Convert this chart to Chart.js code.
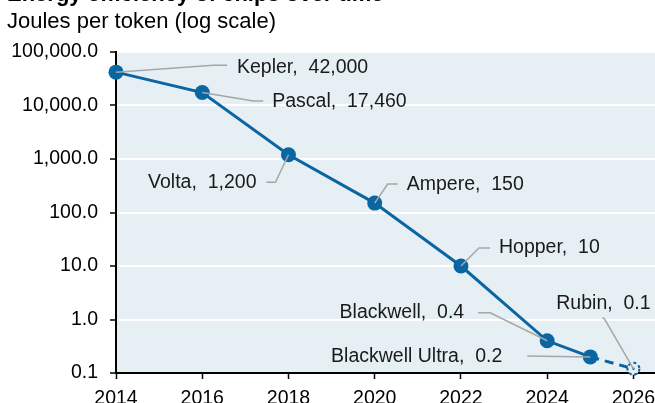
<!DOCTYPE html>
<html>
<head>
<meta charset="utf-8">
<script src="https://cdn.jsdelivr.net/npm/chart.js@4"></script>
<style>
  html, body { margin: 0; padding: 0; background: #fff; }
  #wrap { position: relative; width: 655px; height: 403px; overflow: hidden; }
  #title { position: absolute; left: 7px; top: -19px; font: bold 22px "Liberation Sans", Arial, sans-serif; color: #000; white-space: nowrap; }
  #subtitle { position: absolute; left: 7px; top: 8px; font: 22px "Liberation Sans", Arial, sans-serif; color: #000; white-space: nowrap; }
  canvas { position: absolute; left: 0; top: 0; }
</style>
</head>
<body>
<div id="wrap">
  <canvas id="chart" width="655" height="403"></canvas>
  <div id="title">Energy efficiency of chips over time</div>
  <div id="subtitle">Joules per token (log scale)</div>
</div>
<script>
// données
const chips = ["Kepler", "Pascal", "Volta", "Ampere", "Hopper", "Blackwell", "Blackwell Ultra", "Rubin"];
const years = [2014, 2016, 2018, 2020, 2022, 2024, 2025, 2026];
const joules = [42000, 17460, 1200, 150, 10, 0.4, 0.2, 0.12];
const valueLabels = ["42,000", "17,460", "1,200", "150", "10", "0.4", "0.2", "0.1"];
const xTicks = [2014, 2016, 2018, 2020, 2022, 2024, 2026];
const yTicks = [0.1, 1, 10, 100, 1000, 10000, 100000];
const yTickLabels = ["0.1", "1.0", "10.0", "100.0", "1,000.0", "10,000.0", "100,000.0"];

const blue = "#0a66a2";
const font = '"Liberation Sans", Arial, sans-serif';

// décalages des étiquettes (coude, fin du trait, texte) par rapport au point
const callouts = [
    { elbow: [97, -7], end: [111, -7], text: [121, -5], align: "left" },
    { elbow: [51, 8.5], end: [61, 8.5], text: [70, 9], align: "left" },
    { elbow: [-13, 27.5], end: [-22, 27.5], text: [-32, 27.5], align: "right" },
    { elbow: [13, -19], end: [23, -19], text: [32, -18.5], align: "left" },
    { elbow: [18, -18], end: [29, -18], text: [38, -18], align: "left" },
    { elbow: [-57, -28], end: [-69, -28], text: [-83, -28], align: "right" },
    { elbow: [-63, -1], end: [-63, -1], text: [-88, -0.5], align: "right" },
    { elbow: [-29, -50], end: [-31, -51], text: [-30, -65], align: "center" }
];

const plotBg = {
    id: "plotBg",
    beforeDraw(chart) {
        const { ctx, chartArea: a } = chart;
        ctx.save();
        ctx.fillStyle = "#e6eff3";
        ctx.fillRect(a.left, a.top, a.right - a.left, a.bottom - a.top);
        ctx.restore();
    }
};

const labelsPlugin = {
    id: "callouts",
    afterDatasetsDraw(chart) {
        const ctx = chart.ctx;
        const pts = chart.getDatasetMeta(0).data;
        ctx.save();
        // marqueur Rubin (cercle pointillé)
        const r = pts[pts.length - 1];
        ctx.beginPath();
        ctx.arc(r.x, r.y, 6, 0, Math.PI * 2);
        ctx.fillStyle = "#e6eff3";
        ctx.fill();
        ctx.setLineDash([3, 2.5]);
        ctx.lineWidth = 2;
        ctx.strokeStyle = blue;
        ctx.stroke();
        ctx.setLineDash([]);
        ctx.beginPath();
        ctx.arc(r.x, r.y, 1.2, 0, Math.PI * 2);
        ctx.fillStyle = blue;
        ctx.fill();

        ctx.font = "19.5px " + font;
        ctx.textBaseline = "middle";
        pts.forEach((p, i) => {
            const c = callouts[i];
            ctx.beginPath();
            ctx.moveTo(p.x, p.y);
            ctx.lineTo(p.x + c.elbow[0], p.y + c.elbow[1]);
            ctx.lineTo(p.x + c.end[0], p.y + c.end[1]);
            ctx.strokeStyle = "#a6a6a6";
            ctx.lineWidth = 1.5;
            ctx.stroke();
            ctx.fillStyle = "#1a1a1a";
            ctx.textAlign = c.align;
            ctx.fillText(chips[i] + ",  " + valueLabels[i], p.x + c.text[0], p.y + c.text[1]);
        });
        ctx.restore();
    }
};

new Chart(document.getElementById("chart"), {
    type: "line",
    data: {
        datasets: [{
            data: years.map((y, i) => ({ x: y, y: joules[i] })),
            borderColor: blue,
            backgroundColor: blue,
            borderWidth: 3,
            pointRadius: years.map((y, i) => i === years.length - 1 ? 0 : 7.5),
            pointBorderWidth: 0,
            pointBackgroundColor: blue,
            segment: {
                borderDash: ctx => ctx.p1DataIndex === years.length - 1 ? [9, 6] : undefined
            },
            clip: false
        }]
    },
    options: {
        responsive: false,
        animation: false,
        events: [],
        layout: { autoPadding: false, padding: { top: 52, right: 0, left: 0, bottom: 0 } },
        plugins: { legend: { display: false }, tooltip: { enabled: false } },
        scales: {
            x: {
                type: "linear",
                min: 2014,
                max: 2026.5,
                afterBuildTicks: s => { s.ticks = xTicks.map(v => ({ value: v })); },
                afterFit: s => { s.height = 30; s.paddingLeft = 0; s.paddingRight = 0; },
                border: { color: "#000", width: 2 },
                grid: { drawOnChartArea: false, tickColor: "#000", tickLength: 6, tickWidth: 1.5 },
                ticks: { color: "#000", padding: 8, maxRotation: 0, font: { family: font, size: 19.5 }, callback: v => String(v) }
            },
            y: {
                type: "logarithmic",
                min: 0.1,
                max: 100000,
                afterBuildTicks: s => { s.ticks = yTicks.map(v => ({ value: v })); },
                afterFit: s => { s.width = 116; s.paddingTop = 0; s.paddingBottom = 0; },
                border: { color: "#000", width: 2 },
                grid: { color: "#ffffff", lineWidth: 2, tickColor: "#000", tickLength: 6, tickWidth: 1.5 },
                ticks: { color: "#000", padding: 12, font: { family: font, size: 19.5 }, callback: v => yTickLabels[yTicks.indexOf(v)] }
            }
        }
    },
    plugins: [plotBg, labelsPlugin]
});
</script>
</body>
</html>
